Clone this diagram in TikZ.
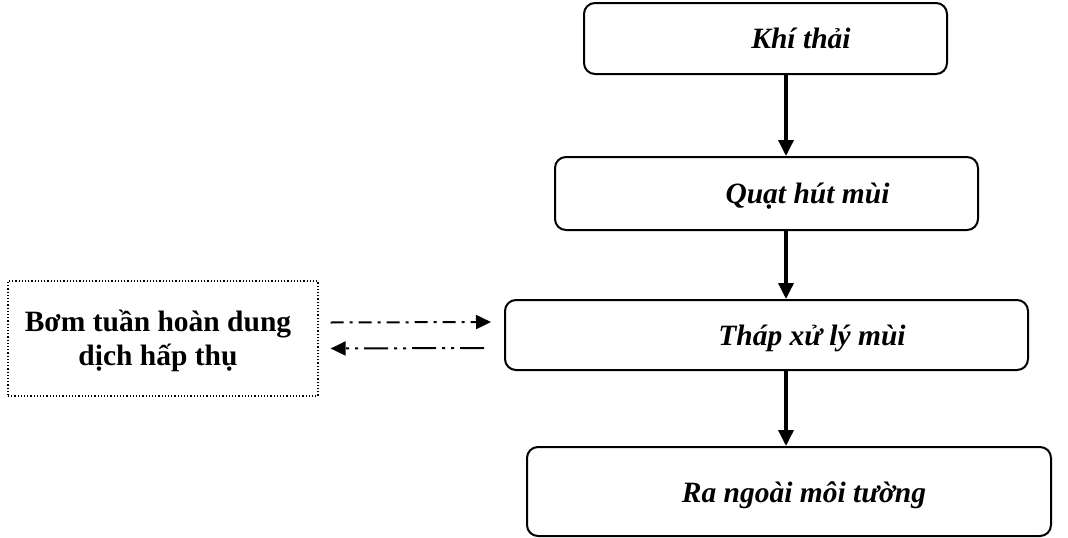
\documentclass[tikz,border=0pt]{standalone}
\usepackage{fontspec}
\setmainfont{Liberation Serif}
\usetikzlibrary{arrows.meta,calc}

\tikzset{
  stage/.style={draw, line width=2pt, rounded corners=11pt, inner sep=0pt},
  pumpbox/.style={draw, line width=1.2pt, dotted, inner sep=0pt},
  flow/.style={line width=3.5pt, -{Triangle[length=16pt,width=15pt]}},
  loopout/.style={line width=2pt, dash pattern=on 13pt off 6pt on 3pt off 6pt, -{Triangle[length=15pt,width=14pt]}},
  loopback/.style={line width=2pt, dash pattern=on 24pt off 6pt on 3pt off 6pt on 3pt off 6pt, -{Triangle[length=15pt,width=14pt]}},
  lbl/.style={font=\fontsize{29.5}{34}\selectfont\itshape\bfseries, anchor=base, inner sep=0pt}
}

\begin{document}
\begin{tikzpicture}[x=1pt,y=-1pt]
            \useasboundingbox (0,0) rectangle (1068,538);

            % boxes of the main line
            \node[stage, minimum width=363pt, minimum height=71pt] (gas) at (765.5,38.5) {};
            \node[stage, minimum width=423pt, minimum height=73pt] (fan) at (766.5,193.5) {};
            \node[stage, minimum width=523pt, minimum height=70pt] (tower) at (766.5,335) {};
            \node[stage, minimum width=524pt, minimum height=89pt] (outlet) at (789,491.5) {};
            \node[pumpbox, minimum width=310pt, minimum height=115pt] (pump) at (163,338.5) {};

            % texts
            \node[lbl] at (801,48) {Khí thải};
            \node[lbl] at (807.5,203) {Quạt hút mùi};
            \node[lbl] at (812,345) {Tháp xử lý mùi};
            \node[lbl] at (804,502) {Ra ngoài môi tường};
            \node[font=\fontsize{29.5}{34}\selectfont\bfseries, align=center] at (158,341)
                {Bơm tuần hoàn dung\\dịch hấp thụ};

            % main flow
            \draw[flow] (gas.south -| 786,0) -- (fan.north -| 786,0);
            \draw[flow] (fan.south -| 786,0) -- (tower.north -| 786,0);
            \draw[flow] (tower.south -| 786,0) -- (outlet.north -| 786,0);

            % circulation loop
            \coordinate (outA) at ($(pump.east)+(12,-16)$);
            \coordinate (outB) at ($(tower.west)+(-13,-13)$);
            \coordinate (backA) at ($(tower.west)+(-20,13)$);
            \coordinate (backB) at ($(pump.east)+(12,10)$);
            \draw[loopout] (outA) -- (outB);
            \draw[loopback] (backA) -- (backB);
\end{tikzpicture}
\end{document}
